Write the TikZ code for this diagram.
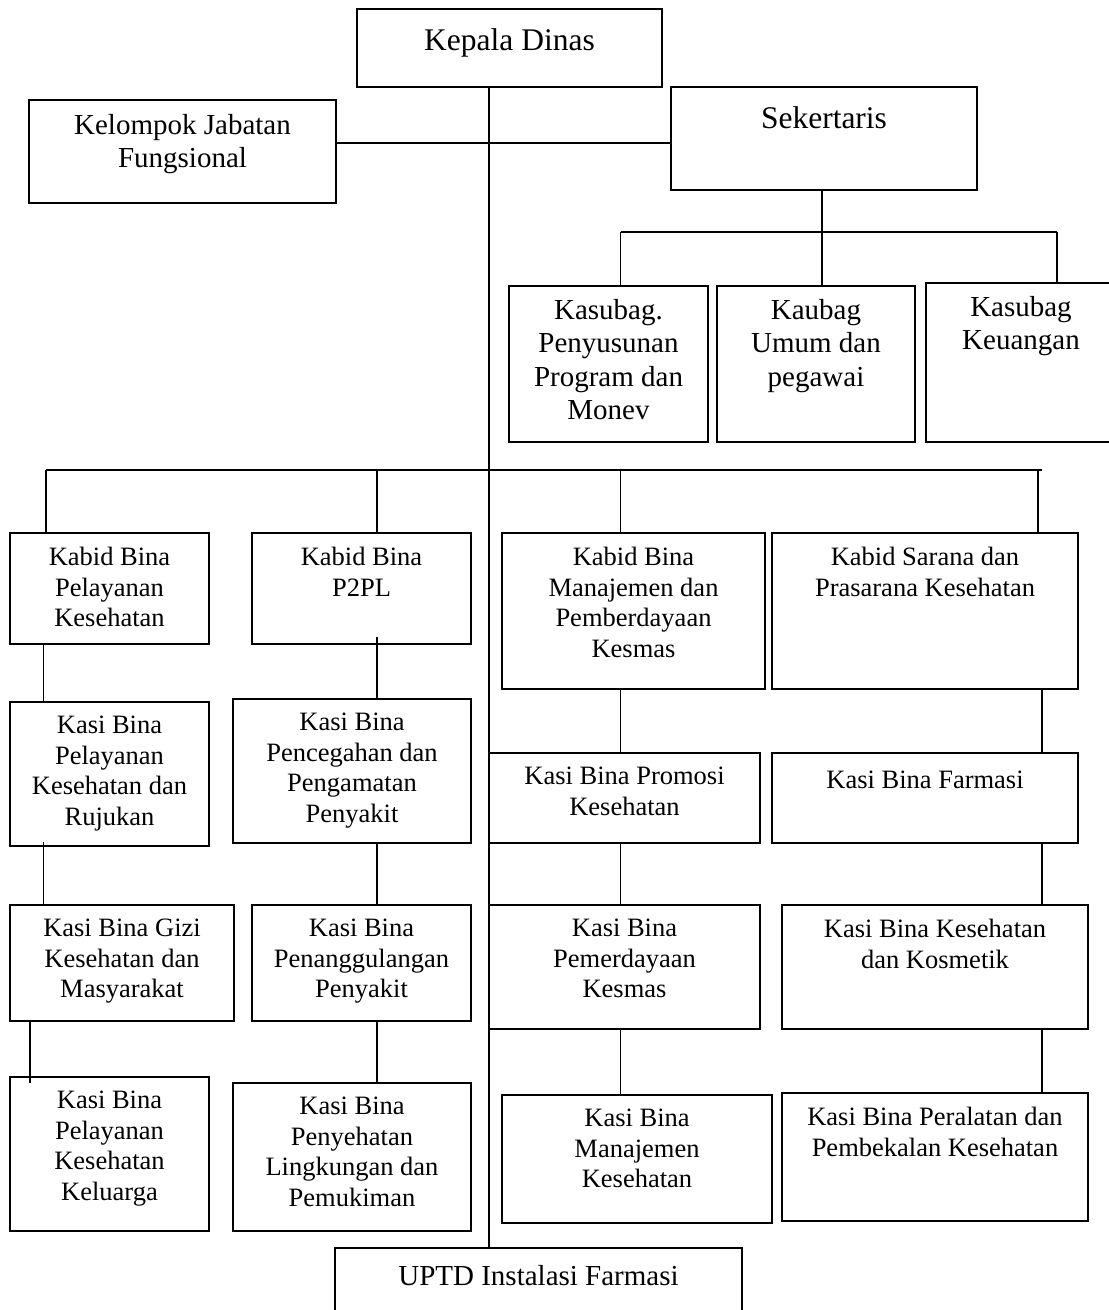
\documentclass[tikz,border=0pt]{standalone}
\usepackage{fontspec}
\setmainfont{Liberation Serif}
\usetikzlibrary{fit}
\tikzset{
  orgbox/.style={draw, line width=1.6pt, inner sep=0pt, outer sep=0pt},
  conn/.style={line width=1.6pt},
  toptxt/.style={font=\fontsize{31.5}{36}\selectfont, align=center, inner sep=0pt,
    execute at begin node=\rule{0pt}{24pt}},
  bigtxt/.style={font=\fontsize{29}{33.5}\selectfont, align=center, inner sep=0pt,
    execute at begin node=\rule{0pt}{24pt}},
  smalltxt/.style={font=\fontsize{26.5}{30.5}\selectfont, align=center, inner sep=0pt,
    execute at begin node=\rule{0pt}{21pt}},
}
% #1 name, #2 x1, #3 y1, #4 x2, #5 y2 (pixels, y downward), #6 text style, #7 top gap, #8 text
\newcommand\orgnode[8]{%
  \node[orgbox, fit={(#2,-#3)(#4,-#5)}] (#1) {};
  \node[#6, anchor=north] (#1-t) at ([yshift=-#7pt]#1.north) {#8};}
\begin{document}
\begin{tikzpicture}[x=1pt,y=1pt]
\useasboundingbox (0,0) rectangle (1109,-1310);

% top level
\orgnode{kd}{357}{9}{662}{87}{toptxt}{17}{Kepala Dinas}
\orgnode{kjf}{29}{100}{336}{203}{bigtxt}{14}{Kelompok Jabatan\\Fungsional}
\orgnode{sek}{671}{87}{977}{190}{toptxt}{17}{Sekertaris}
\orgnode{ksp}{509}{286}{708}{442}{bigtxt}{13}{Kasubag.\\Penyusunan\\Program dan\\Monev}
\orgnode{kub}{717}{286}{915}{442}{bigtxt}{13}{Kaubag\\Umum dan\\pegawai}
\orgnode{ksk}{926}{283}{1116}{442}{bigtxt}{13}{Kasubag\\Keuangan}

% kabid row
\orgnode{kb1}{10}{533}{209}{644}{smalltxt}{14}{Kabid Bina\\Pelayanan\\Kesehatan}
\orgnode{kb2}{252}{533}{471}{644}{smalltxt}{14}{Kabid Bina\\P2PL}
\orgnode{kb3}{502}{533}{765}{689}{smalltxt}{14}{Kabid Bina\\Manajemen dan\\Pemberdayaan\\Kesmas}
\orgnode{kb4}{772}{533}{1078}{689}{smalltxt}{14}{Kabid Sarana dan\\Prasarana Kesehatan}

% kasi row 1
\orgnode{ks11}{10}{702}{209}{846}{smalltxt}{14}{Kasi Bina\\Pelayanan\\Kesehatan dan\\Rujukan}
\orgnode{ks21}{233}{699}{471}{843}{smalltxt}{14}{Kasi Bina\\Pencegahan dan\\Pengamatan\\Penyakit}
\orgnode{ks31}{489}{753}{760}{843}{smalltxt}{14}{Kasi Bina Promosi\\Kesehatan}
\orgnode{ks41}{772}{753}{1078}{843}{smalltxt}{14}{Kasi Bina Farmasi}

% kasi row 2
\orgnode{ks12}{10}{905}{234}{1021}{smalltxt}{14}{Kasi Bina Gizi\\Kesehatan dan\\Masyarakat}
\orgnode{ks22}{252}{905}{471}{1021}{smalltxt}{14}{Kasi Bina\\Penanggulangan\\Penyakit}
\orgnode{ks32}{489}{905}{760}{1029}{smalltxt}{14}{Kasi Bina\\Pemerdayaan\\Kesmas}
\orgnode{ks42}{782}{905}{1088}{1029}{smalltxt}{14}{Kasi Bina Kesehatan\\dan Kosmetik}

% kasi row 3
\orgnode{ks13}{10}{1077}{209}{1231}{smalltxt}{14}{Kasi Bina\\Pelayanan\\Kesehatan\\Keluarga}
\orgnode{ks23}{233}{1083}{471}{1231}{smalltxt}{14}{Kasi Bina\\Penyehatan\\Lingkungan dan\\Pemukiman}
\orgnode{ks33}{502}{1095}{772}{1223}{smalltxt}{14}{Kasi Bina\\Manajemen\\Kesehatan}
\orgnode{ks43}{782}{1093}{1088}{1221}{smalltxt}{14}{Kasi Bina Peralatan dan\\Pembekalan Kesehatan}

% UPTD
\orgnode{uptd}{335}{1248}{742}{1330}{bigtxt}{13}{UPTD Instalasi Farmasi}

% helper coordinates
\coordinate (xm) at (489,0);
\coordinate (ysek) at (0,-143);
\coordinate (xs) at (822,0);
\coordinate (ybs) at (0,-232);
\coordinate (xsa) at (620.5,0);
\coordinate (xsc) at (1057,0);
\coordinate (ybus) at (0,-470);
\coordinate (xbl) at (46,0);
\coordinate (xbr) at (1042,0);
\coordinate (xc1) at (43.6,0);
\coordinate (xc2) at (377,0);
\coordinate (xc3) at (620.5,0);
\coordinate (xc4) at (1038,0);
\coordinate (xc4b) at (1042,0);
\coordinate (c2s) at (377,-637);
\coordinate (c1s) at (43.6,-842);
\coordinate (c1e) at (30,-1083);

% main spine
\draw[conn] (xm |- kd.south) -- (xm |- uptd.north);
% functional group to secretary
\draw[conn] (ysek -| kjf.east) -- (ysek -| sek.west);
% secretary subtree
\draw[conn] (xs |- sek.south) -- (xs |- ybs);
\draw[conn] (xsa |- ybs) -- (xsc |- ybs);
\draw[conn] (xsa |- ybs) -- (xsa |- ksp.north);
\draw[conn] (xs |- ybs) -- (xs |- kub.north);
\draw[conn] (xsc |- ybs) -- (xsc |- ksk.north);
% main bus to kabid
\draw[conn] (xbl |- ybus) -- (xbr |- ybus);
\draw[conn] (xbl |- ybus) -- (xbl |- kb1.north);
\draw[conn] (xc2 |- ybus) -- (xc2 |- kb2.north);
\draw[conn] (xc3 |- ybus) -- (xc3 |- kb3.north);
\draw[conn] (xc4 |- ybus) -- (xc4 |- kb4.north);
% column 1
\draw[conn] (xc1 |- kb1.south) -- (xc1 |- ks11.north);
\draw[conn] (c1s) -- (xc1 |- ks12.north);
\draw[conn] (c1e |- ks12.south) -- (c1e);
% column 2
\draw[conn] (c2s) -- (xc2 |- ks21.north);
\draw[conn] (xc2 |- ks21.south) -- (xc2 |- ks22.north);
\draw[conn] (xc2 |- ks22.south) -- (xc2 |- ks23.north);
% column 3
\draw[conn] (xc3 |- kb3.south) -- (xc3 |- ks31.north);
\draw[conn] (xc3 |- ks31.south) -- (xc3 |- ks32.north);
\draw[conn] (xc3 |- ks32.south) -- (xc3 |- ks33.north);
% column 4
\draw[conn] (xc4b |- kb4.south) -- (xc4b |- ks41.north);
\draw[conn] (xc4b |- ks41.south) -- (xc4b |- ks42.north);
\draw[conn] (xc4b |- ks42.south) -- (xc4b |- ks43.north);
\end{tikzpicture}
\end{document}
